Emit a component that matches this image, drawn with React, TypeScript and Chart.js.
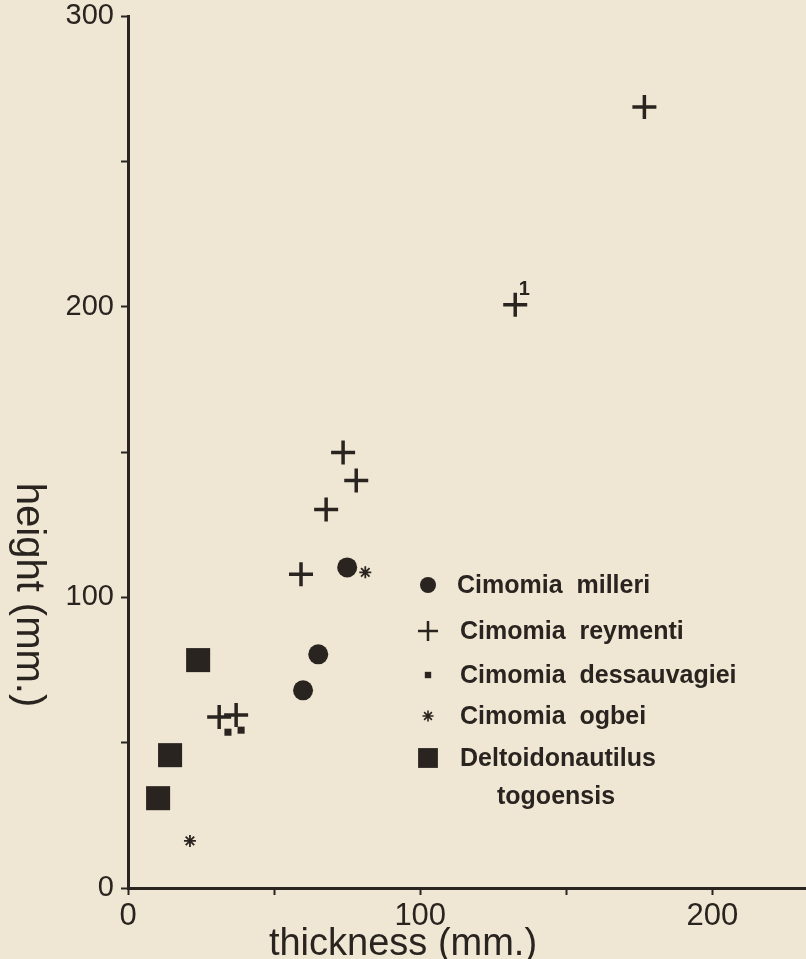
import React, { useEffect, useRef } from 'react';
import { Chart, registerables } from 'chart.js';
import { drawPoint } from 'chart.js/helpers';

Chart.register(...registerables);

// ---- data ----
const milleriX = [75.0, 65.1, 59.9];
const milleriY = [110.3, 80.4, 68.0];

const reymentiX = [176.7, 132.5, 73.6, 78.1, 67.8, 59.2, 31.2, 37.0];
const reymentiY = [268.7, 200.7, 149.8, 140.2, 130.2, 107.9, 58.8, 59.5];

const dessauvagieiX = [34.2, 38.7];
const dessauvagieiY = [53.6, 54.3];

const ogbeiX = [81.2, 21.2];
const ogbeiY = [108.6, 16.2];

const deltoX = [24.0, 14.4, 10.3];
const deltoY = [78.4, 45.7, 30.9];

const xLabeledTicks = [0, 100, 200];
const yLabeledTicks = [0, 100, 200, 300];

const seriesNames = [
  'Cimomia  milleri',
  'Cimomia  reymenti',
  'Cimomia  dessauvagiei',
  'Cimomia  ogbei',
  'Deltoidonautilus',
];
const seriesNameLine2 = 'togoensis';
const pointNote = '1';

const xTitle = 'thickness (mm.)';
const yTitle = 'height (mm.)';

const INK = '#2a2420';
const BG = '#efe7d3';

const toPts = (xs: number[], ys: number[]) => xs.map((x, i) => ({ x, y: ys[i] }));

export default function App() {
  const ref = useRef<HTMLCanvasElement | null>(null);

  useEffect(() => {
    document.body.style.margin = '0';
    document.body.style.background = BG;
    const canvas = ref.current;
    if (!canvas) return;

    const styles = [
      { pointStyle: 'circle', radius: 10, borderWidth: 0, lr: 8, lbw: 0 },
      { pointStyle: 'cross', radius: 12, borderWidth: 3.5, lr: 10, lbw: 2.5 },
      { pointStyle: 'rect', radius: 5, borderWidth: 0, lr: 4.5, lbw: 0 },
      { pointStyle: 'star', radius: 6, borderWidth: 1.8, lr: 5.5, lbw: 1.6 },
      { pointStyle: 'rect', radius: 17, borderWidth: 0, lr: 14, lbw: 0 },
    ];

    const datasetsData = [
      toPts(milleriX, milleriY),
      toPts(reymentiX, reymentiY),
      toPts(dessauvagieiX, dessauvagieiY),
      toPts(ogbeiX, ogbeiY),
      toPts(deltoX, deltoY),
    ];

    const decorPlugin = {
      id: 'decor',
      beforeDraw(chart: any) {
        const c = chart.ctx;
        c.save();
        c.fillStyle = BG;
        c.fillRect(0, 0, chart.width, chart.height);
        c.restore();
      },
      afterDraw(chart: any) {
        const c = chart.ctx;
        c.save();
        c.fillStyle = INK;
        c.strokeStyle = INK;

        // x-axis title
        c.font = '38px "Liberation Sans", Arial, sans-serif';
        c.textAlign = 'center';
        c.textBaseline = 'alphabetic';
        c.fillText(xTitle, 403, 955);

        // y-axis title (reads top to bottom)
        c.save();
        c.translate(17, 595);
        c.rotate(Math.PI / 2);
        c.font = '40px "Liberation Sans", Arial, sans-serif';
        c.textAlign = 'center';
        c.textBaseline = 'alphabetic';
        c.fillText(yTitle, 0, 0);
        c.restore();

        // note "1" beside a reymenti point
        const el = chart.getDatasetMeta(1).data[1];
        if (el) {
          c.font = 'bold 20px "Liberation Sans", Arial, sans-serif';
          c.textAlign = 'center';
          c.textBaseline = 'alphabetic';
          c.fillText(pointNote, el.x + 9, el.y - 10);
        }

        // legend
        const rows = [585, 631, 675, 716, 758];
        const markX = 428;
        c.font = 'bold 25px "Liberation Sans", Arial, sans-serif';
        c.textAlign = 'left';
        c.textBaseline = 'middle';
        seriesNames.forEach((name, i) => {
          const s = styles[i];
          c.fillStyle = INK;
          c.strokeStyle = INK;
          c.lineWidth = s.lbw || 1;
          drawPoint(c, { pointStyle: s.pointStyle, radius: s.lr, borderWidth: s.lbw, rotation: 0 } as any, markX, rows[i]);
          c.fillStyle = INK;
          c.fillText(name, i === 0 ? 457 : 460, rows[i] + 1);
        });
        c.fillText(seriesNameLine2, 497, 797);
        c.restore();
      },
    };

    const chart = new Chart(canvas, {
      type: 'scatter',
      data: {
        datasets: datasetsData.map((d, i) => ({
          label: seriesNames[i],
          data: d,
          pointStyle: styles[i].pointStyle as any,
          pointRadius: styles[i].radius,
          pointBorderWidth: styles[i].borderWidth,
          pointBackgroundColor: INK,
          pointBorderColor: INK,
          showLine: false,
          clip: false,
        })),
      },
      options: {
        animation: false,
        responsive: false,
        maintainAspectRatio: false,
        devicePixelRatio: 1,
        events: [],
        layout: { autoPadding: false, padding: { top: 16, right: 0, left: 0, bottom: 0 } },
        plugins: {
          legend: { display: false },
          tooltip: { enabled: false },
        },
        scales: {
          x: {
            type: 'linear',
            min: 0,
            max: 232,
            afterFit: (s: any) => {
              s.height = 71;
              s.paddingRight = 0;
            },
            border: { display: true, color: INK, width: 3 },
            grid: {
              display: true,
              drawOnChartArea: false,
              drawTicks: true,
              tickLength: 7,
              tickWidth: 2,
              tickColor: INK,
            },
            ticks: {
              stepSize: 50,
              includeBounds: false,
              autoSkip: false,
              maxRotation: 0,
              padding: 3,
              color: INK,
              font: { family: '"Liberation Sans", Arial, sans-serif', size: 31 },
              callback: (v: any) => (xLabeledTicks.includes(Number(v)) ? String(v) : ''),
            },
          },
          y: {
            type: 'linear',
            min: 0,
            max: 300,
            afterFit: (s: any) => {
              s.width = 128;
              s.paddingTop = 0;
              s.paddingBottom = 0;
            },
            border: { display: true, color: INK, width: 3 },
            grid: {
              display: true,
              drawOnChartArea: false,
              drawTicks: true,
              tickLength: 7,
              tickWidth: 2,
              tickColor: INK,
            },
            ticks: {
              stepSize: 50,
              includeBounds: false,
              autoSkip: false,
              padding: 7,
              color: INK,
              font: { family: '"Liberation Sans", Arial, sans-serif', size: 29 },
              callback: (v: any) => (yLabeledTicks.includes(Number(v)) ? String(v) : ''),
            },
          },
        },
      } as any,
      plugins: [decorPlugin],
    });

    return () => chart.destroy();
  }, []);

  return (
    <div style={{ width: 806, height: 959, background: BG }}>
      <canvas ref={ref} width={806} height={959} style={{ display: 'block' }} />
    </div>
  );
}
